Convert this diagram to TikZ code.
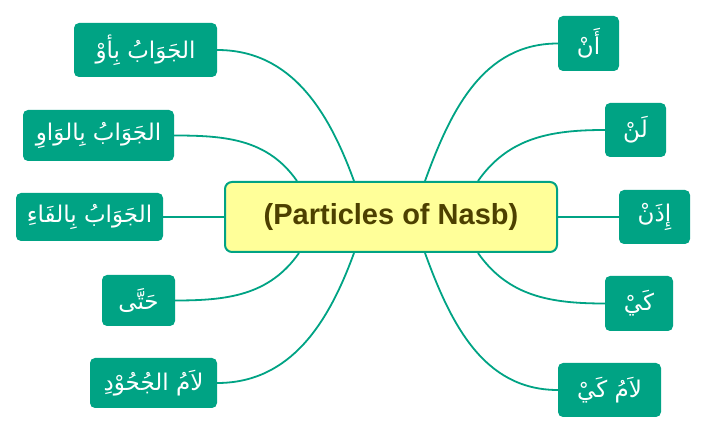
\documentclass[tikz,border=0pt]{standalone}
\usepackage{fontspec}
\setmainfont{Liberation Sans}
\newfontfamily\arabicfont[Script=Arabic]{DejaVu Sans}
\TeXXeTstate=1
\usepackage{tikz}
\definecolor{leafgreen}{RGB}{0,163,132}
\definecolor{rootfill}{RGB}{255,255,153}
\definecolor{roottext}{RGB}{77,64,0}

\begin{document}
\begin{tikzpicture}[x=1pt, y=-1pt,
  leaf/.style={fill=leafgreen, rounded corners=5, text=white, inner sep=0, font=\arabicfont\fontsize{23}{26}\selectfont},
  root/.style={draw=leafgreen, line width=2, fill=rootfill, rounded corners=7, text=roottext, font=\bfseries\fontsize{29}{34}\selectfont, minimum width=332, minimum height=70},
  link/.style={draw=leafgreen, line width=1.8}]
\useasboundingbox (0,0) rectangle (707,435);
%center
\node[root] (c) at (391,217) {(Particles of Nasb)};
%left
\node[leaf, minimum width=143, minimum height=54] (l1) at (145.5,50) {\beginR الجَوَابُ بِأوْ\endR};
\node[leaf, minimum width=151, minimum height=51] (l2) at (98.5,135.5) {\beginR الجَوَابُ بِالوَاوِ\endR};
\node[leaf, minimum width=147, minimum height=48] (l3) at (89.5,217) {\beginR الجَوَابُ بِالفَاءِ\endR};
\node[leaf, minimum width=73, minimum height=51] (l4) at (138.5,300.5) {\beginR حَتَّى\endR};
\node[leaf, minimum width=127, minimum height=50] (l5) at (153.5,383) {\beginR لاَمُ الجُحُوْدِ\endR};
%right
\node[leaf, minimum width=61, minimum height=55] (r1) at (588.5,43.5) {\beginR أَنْ\endR};
\node[leaf, minimum width=61, minimum height=54] (r2) at (635.5,130) {\beginR لَنْ\endR};
\node[leaf, minimum width=71, minimum height=54] (r3) at (654.5,217) {\beginR إِذَنْ\endR};
\node[leaf, minimum width=68, minimum height=55] (r4) at (639,303.5) {\beginR كَيْ\endR};
\node[leaf, minimum width=103, minimum height=54] (r5) at (609.5,390) {\beginR لاَمُ كَيْ\endR};
\draw[link] (l1.east) to[out=0, in=110] ([xshift=-37pt]c.north);
\draw[link] (l2.east) to[out=0, in=125] ([xshift=-94pt]c.north);
\draw[link] (l3.east) -- (c.west);
\draw[link] (l4.east) to[out=0, in=-125] ([xshift=-92pt]c.south);
\draw[link] (l5.east) to[out=0, in=-110] ([xshift=-37pt]c.south);
\draw[link] (r1.west) to[out=180, in=70] ([xshift=34pt]c.north);
\draw[link] (r2.west) to[out=180, in=55] ([xshift=87pt]c.north);
\draw[link] (r3.west) -- (c.east);
\draw[link] (r4.west) to[out=180, in=-55] ([xshift=87pt]c.south);
\draw[link] (r5.west) to[out=180, in=-70] ([xshift=34pt]c.south);
\end{tikzpicture}
\end{document}
